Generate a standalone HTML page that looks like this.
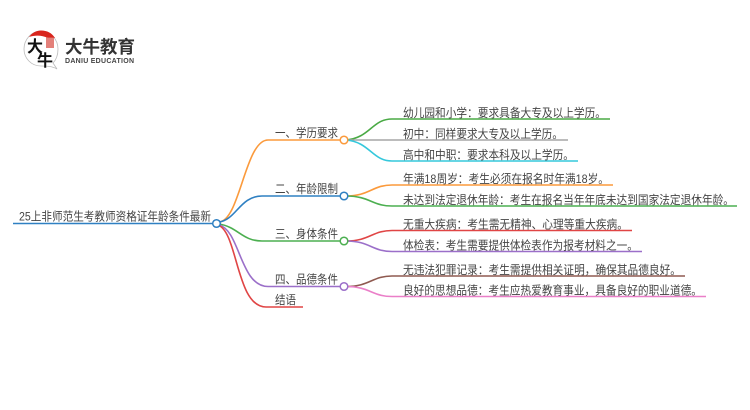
<!DOCTYPE html>
<html><head><meta charset="utf-8"><style>
html,body{margin:0;padding:0;background:#fff}
svg{display:block}
text{font-family:"Liberation Sans","Noto Sans CJK SC",sans-serif;fill:#444;font-size:12px}
path,line{fill:none;stroke-width:1.6}
circle{fill:#fff;stroke-width:1.5}
</style></head><body>
<svg width="750" height="410" viewBox="0 0 750 410" xmlns="http://www.w3.org/2000/svg">
<!-- logo -->
<path d="M41 31C31 31 24 40 24 49C24 58 31 66 41 66C46 66 52 66 57 69L53 63C57 59 58 54 58 49C58 40 51 31 41 31Z" style="stroke:#bbb;stroke-width:.8;fill:#fff"/>
<path d="M29 37C32 33 36 30.500 41 30.500C47 30.500 52 33 55 38L48 38C42 35 35 35 29 37Z" style="fill:#d9251c;stroke:none"/>
<rect x="46" y="37" width="8" height="11" fill="#d9564e" opacity=".75"/>
<text x="27" y="52" style="font-size:16px;fill:#111;font-weight:bold">大</text>
<text x="37" y="66" style="font-size:16px;fill:#111;font-weight:bold">牛</text>
<text x="65" y="53" textLength="70" style="font-size:17.500px;font-weight:bold;fill:#333">大牛教育</text>
<text x="65" y="63" style="font-size:7px;fill:#444;font-weight:bold" textLength="69">DANIU EDUCATION</text>
<!-- root -->
<line x1="13" y1="223.500" x2="214" y2="223.500" stroke="#2f80c2"/>
<text x="19" y="220.500" textLength="192" lengthAdjust="spacingAndGlyphs">25上非师范生考教师资格证年龄条件最新</text>
<!-- branches -->
<path d="M219 222C240 221 245 140 268 140L342 140" stroke="#fb9a3c"/>
<path d="M219 222C236 220 240 196 262 196L342 196" stroke="#2f80c2"/>
<path d="M219 224C238 227 242 241 262 241L342 241" stroke="#4caf50"/>
<path d="M219 225C240 230 240 286.500 268 286.500L342 286.500" stroke="#9b6fc9"/>
<path d="M218 225C238 232 236 307 266 307L303 307" stroke="#e04545"/>
<text x="275" y="137" textLength="63" lengthAdjust="spacingAndGlyphs">一、学历要求</text>
<text x="275" y="193" textLength="63" lengthAdjust="spacingAndGlyphs">二、年龄限制</text>
<text x="275" y="238" textLength="63" lengthAdjust="spacingAndGlyphs">三、身体条件</text>
<text x="275" y="283.500" textLength="63" lengthAdjust="spacingAndGlyphs">四、品德条件</text>
<text x="275" y="304" textLength="21" lengthAdjust="spacingAndGlyphs">结语</text>
<!-- leaves -->
<path d="M346 140C370 138 372 119 392 119L610 119" stroke="#4aaa45"/>
<path d="M346 140L568 140" stroke="#a5a5a5"/>
<path d="M346 140C370 142 372 161 392 161L578 161" stroke="#35c8dc"/>
<path d="M346 196C370 196 372 185 392 185L613 185" stroke="#fb9a3c"/>
<path d="M346 196C370 196 372 206 392 206L737 206" stroke="#4caf50"/>
<path d="M346 241C370 241 372 230.500 392 230.500L632 230.500" stroke="#e04545"/>
<path d="M346 241C370 241 372 251.500 392 251.500L642 251.500" stroke="#9b6fc9"/>
<path d="M346 286.500C370 286.500 372 276 392 276L685 276" stroke="#8f5a50"/>
<path d="M346 286.500C370 286.500 372 296.500 392 296.500L706 296.500" stroke="#ea7fc8"/>
<circle cx="216.500" cy="223.500" r="3.800" stroke="#2f80c2"/>
<circle cx="344" cy="140" r="3.800" stroke="#fb9a3c"/>
<circle cx="344" cy="196" r="3.800" stroke="#2f80c2"/>
<circle cx="344" cy="241" r="3.800" stroke="#4caf50"/>
<circle cx="344" cy="286.500" r="3.800" stroke="#9b6fc9"/>
<text x="403" y="117" textLength="203" lengthAdjust="spacingAndGlyphs">幼儿园和小学&#xFF1A;要求具备大专及以上学历。</text>
<text x="403" y="138" textLength="160" lengthAdjust="spacingAndGlyphs">初中&#xFF1A;同样要求大专及以上学历。</text>
<text x="403" y="159" textLength="171" lengthAdjust="spacingAndGlyphs">高中和中职&#xFF1A;要求本科及以上学历。</text>
<text x="403" y="183" textLength="206" lengthAdjust="spacingAndGlyphs">年满18周岁&#xFF1A;考生必须在报名时年满18岁。</text>
<text x="403" y="204" textLength="331" lengthAdjust="spacingAndGlyphs">未达到法定退休年龄&#xFF1A;考生在报名当年年底未达到国家法定退休年龄。</text>
<text x="403" y="228.500" textLength="225" lengthAdjust="spacingAndGlyphs">无重大疾病&#xFF1A;考生需无精神、心理等重大疾病。</text>
<text x="403" y="249.500" textLength="235" lengthAdjust="spacingAndGlyphs">体检表&#xFF1A;考生需要提供体检表作为报考材料之一。</text>
<text x="403" y="274" textLength="278" lengthAdjust="spacingAndGlyphs">无违法犯罪记录&#xFF1A;考生需提供相关证明&#xFF0C;确保其品德良好。</text>
<text x="403" y="294.500" textLength="299" lengthAdjust="spacingAndGlyphs">良好的思想品德&#xFF1A;考生应热爱教育事业&#xFF0C;具备良好的职业道德。</text>
</svg>
</body></html>
